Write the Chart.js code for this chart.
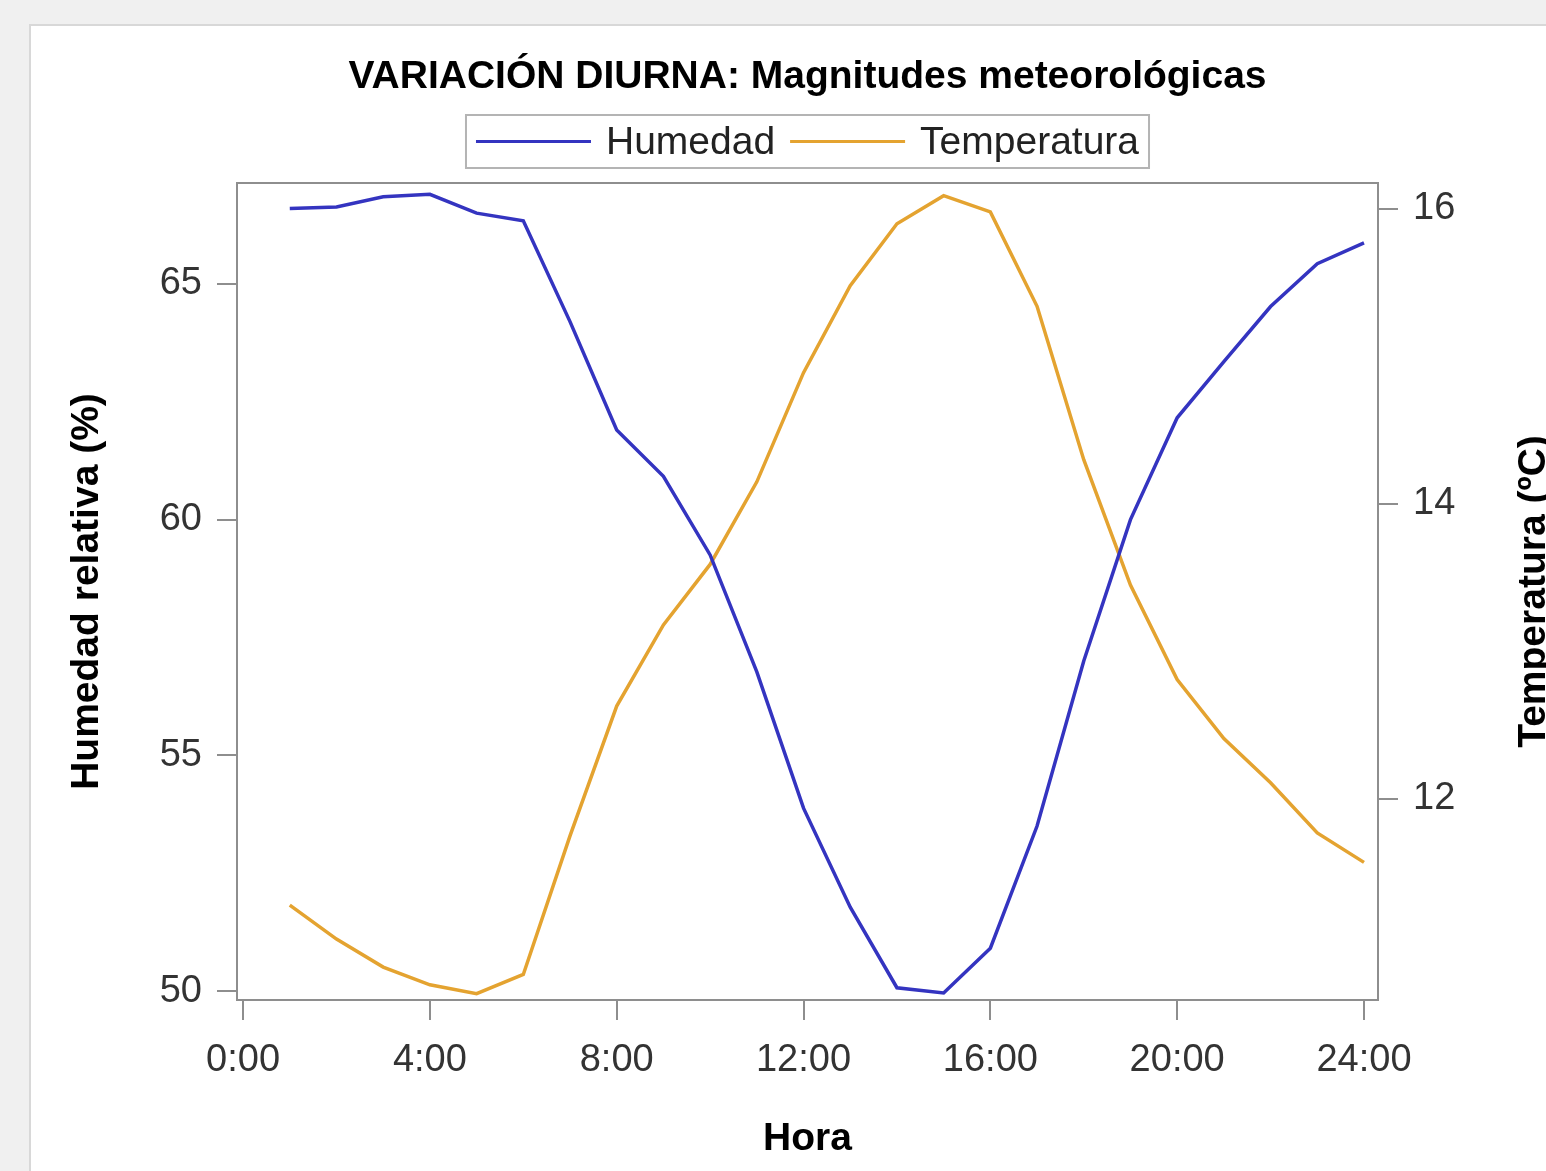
<!DOCTYPE html>
<html>
<head>
<meta charset="utf-8">
<script src="https://cdn.jsdelivr.net/npm/chart.js@4.4.1/dist/chart.umd.min.js"></script>
<style>
  html, body { margin: 0; padding: 0; background: #f0f0f0; overflow: hidden; }
  #panel { position: absolute; left: 29px; top: 24px; width: 1600px; height: 1200px; background: #fff; border: 2px solid #d8d8d8; }
  #chart { position: absolute; left: 0; top: 0; }
</style>
</head>
<body>
<div id="panel"></div>
<canvas id="chart" width="1546" height="1171"></canvas>
<script>
// datos
const horas = [1, 2, 3, 4, 5, 6, 7, 8, 9, 10, 11, 12, 13, 14, 15, 16, 17, 18, 19, 20, 21, 22, 23, 24]
const humedad = [66.6, 66.63, 66.85, 66.9, 66.5, 66.34, 64.2, 61.9, 60.92, 59.25, 56.77, 53.88, 51.78, 50.07, 49.96, 50.91, 53.5, 57.0, 60.0, 62.16, 63.35, 64.52, 65.43, 65.87]
const temperatura = [11.28, 11.05, 10.86, 10.74, 10.68, 10.81, 11.75, 12.63, 13.18, 13.59, 14.15, 14.89, 15.48, 15.9, 16.09, 15.98, 15.34, 14.3, 13.45, 12.81, 12.41, 12.11, 11.77, 11.57]
const horaTicks = [0, 4, 8, 12, 16, 20, 24]
const humTicks = [50, 55, 60, 65]
const tempTicks = [12, 14, 16]

const FONT = "'Liberation Sans', Arial, sans-serif"
const GRIS = '#8e8e8e'
const AZUL = '#3434c0'
const NARANJA = '#e4a330'

// marco, leyenda y titulo del eje derecho
const extras = {
    id: 'extras',
    afterDraw(chart) {
        const {ctx, chartArea: a} = chart
        ctx.save()
        ctx.strokeStyle = GRIS
        ctx.lineWidth = 2
        ctx.strokeRect(a.left, a.top, a.right - a.left, a.bottom - a.top)

        // leyenda
        ctx.font = '39px ' + FONT
        ctx.textBaseline = 'middle'
        ctx.textAlign = 'left'
        const items = chart.data.datasets.map(ds => ({text: ds.label, color: ds.borderColor, w: ctx.measureText(ds.label).width}))
        const lineLen = 115, gap = 15, pad = 10
        let total = pad * 2 + gap * (items.length - 1)
        items.forEach(it => total += lineLen + gap + it.w)
        const cx = (a.left + a.right) / 2
        const top = 115, h = 53
        let x = cx - total / 2
        ctx.strokeStyle = '#b4b4b4'
        ctx.lineWidth = 2
        ctx.strokeRect(x, top, total, h)
        const cy = top + h / 2
        x += pad
        items.forEach(it => {
            ctx.strokeStyle = it.color
            ctx.lineWidth = 3
            ctx.beginPath()
            ctx.moveTo(x, cy)
            ctx.lineTo(x + lineLen, cy)
            ctx.stroke()
            x += lineLen + gap
            ctx.fillStyle = '#222'
            ctx.fillText(it.text, x, cy + 2)
            x += it.w + gap
        })

        ctx.translate(1534, (a.top + a.bottom) / 2)
        ctx.rotate(-Math.PI / 2)
        ctx.font = 'bold 39px ' + FONT
        ctx.textAlign = 'center'
        ctx.fillStyle = '#000'
        ctx.fillText('Temperatura (ºC)', 0, 0)
        ctx.restore()
    }
}

const toPoints = vals => horas.map((h, i) => ({x: h, y: vals[i]}))
const setTicks = list => scale => { scale.ticks = list.map(v => ({value: v})) }
const tickFont = {family: FONT, size: 38}
const titleFont = {family: FONT, size: 39, weight: 'bold'}
const axisGrid = {drawOnChartArea: false, drawTicks: true, tickLength: 20, color: GRIS, lineWidth: 2}
const axisBorder = {display: true, color: GRIS, width: 2}

new Chart(document.getElementById('chart'), {
    type: 'line',
    data: {
        datasets: [
            {label: 'Humedad', data: toPoints(humedad), borderColor: AZUL, backgroundColor: AZUL, borderWidth: 3.5, pointRadius: 0, tension: 0, yAxisID: 'yH'},
            {label: 'Temperatura', data: toPoints(temperatura), borderColor: NARANJA, backgroundColor: NARANJA, borderWidth: 3.5, pointRadius: 0, tension: 0, yAxisID: 'yT'}
        ]
    },
    options: {
        responsive: false,
        animation: false,
        devicePixelRatio: 1,
        layout: {padding: {left: 29, right: 0, top: 0, bottom: 0}},
        plugins: {
            legend: {display: false},
            tooltip: {enabled: false},
            title: {
                display: true,
                text: 'VARIACIÓN DIURNA: Magnitudes meteorológicas',
                fullSize: false,
                color: '#000',
                font: titleFont,
                padding: {top: 54, bottom: 82.2}
            }
        },
        scales: {
            x: {
                type: 'linear',
                min: -0.13,
                max: 24.3,
                afterBuildTicks: setTicks(horaTicks),
                afterFit: s => { s.height = 171 },
                ticks: {font: tickFont, color: '#333', padding: 18, maxRotation: 0, callback: v => v + ':00'},
                grid: axisGrid,
                border: axisBorder,
                title: {display: true, text: 'Hora', color: '#000', font: titleFont, padding: {top: 0, bottom: 8}}
            },
            yH: {
                type: 'linear',
                position: 'left',
                min: 49.81,
                max: 67.14,
                afterBuildTicks: setTicks(humTicks),
                afterFit: s => { s.width = 208 },
                ticks: {font: tickFont, color: '#333', padding: 15},
                grid: axisGrid,
                border: axisBorder,
                title: {display: true, text: 'Humedad relativa (%)', color: '#000', font: titleFont, padding: {top: 35, bottom: 0}}
            },
            yT: {
                type: 'linear',
                position: 'right',
                min: 10.637,
                max: 16.176,
                afterBuildTicks: setTicks(tempTicks),
                afterFit: s => { s.width = 168 },
                ticks: {font: tickFont, color: '#333', padding: 15},
                grid: axisGrid,
                border: axisBorder
            }
        }
    },
    plugins: [extras]
})
</script>
</body>
</html>
